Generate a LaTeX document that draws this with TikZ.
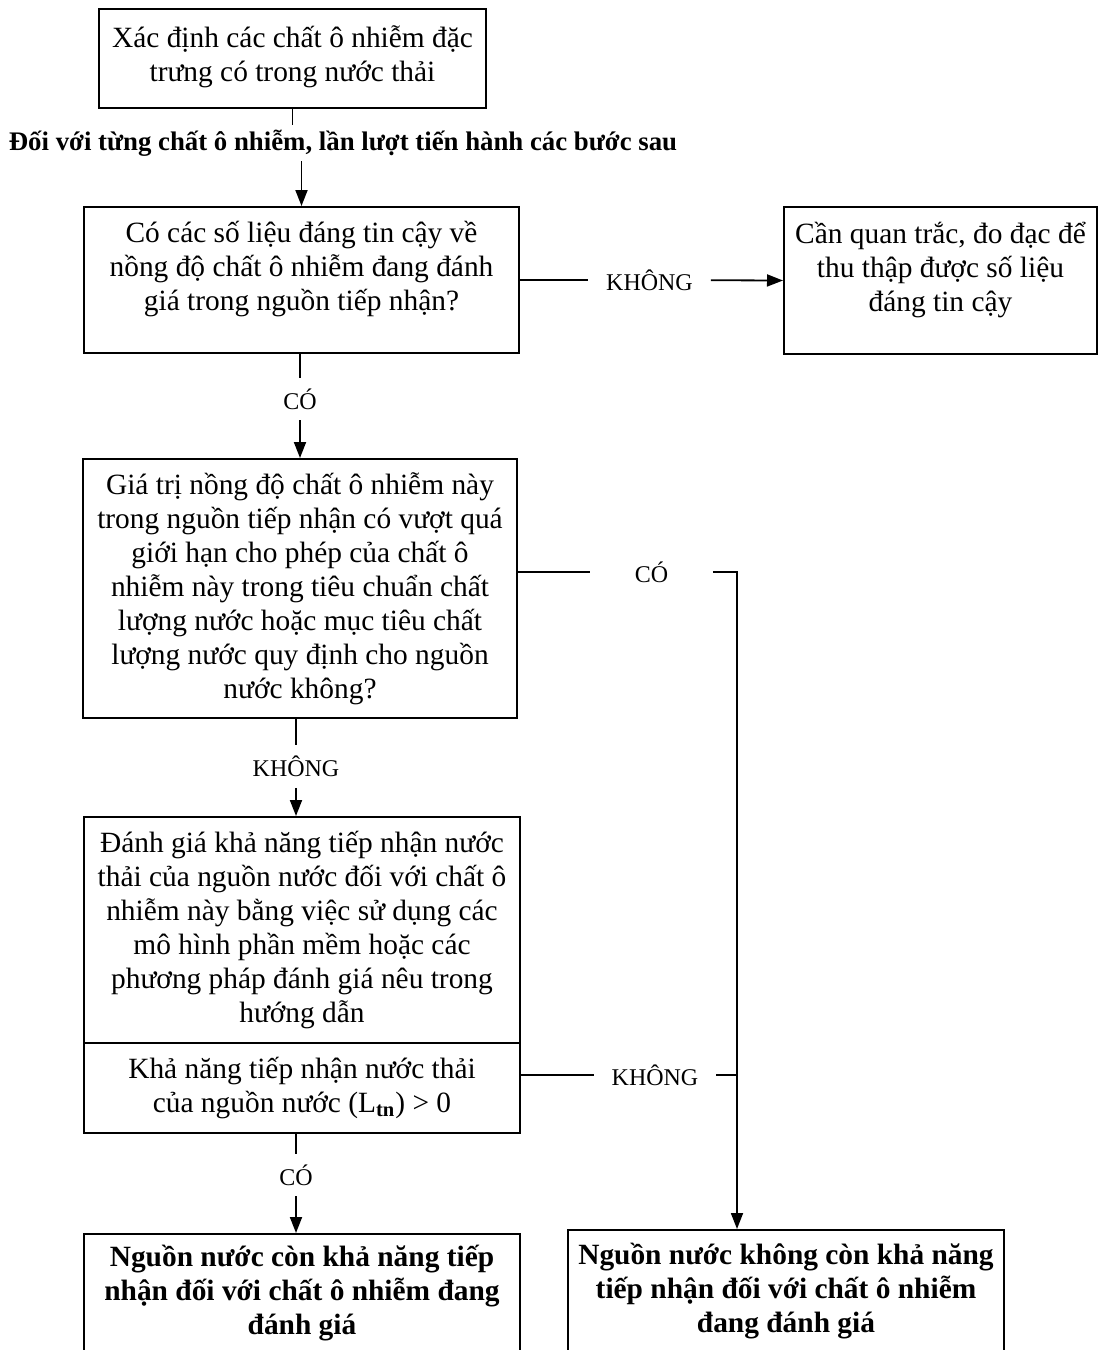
\documentclass[tikz,border=0pt]{standalone}
\usepackage{fontspec}
\setmainfont{Liberation Serif}
\usetikzlibrary{arrows.meta, positioning}

\tikzset{
  box/.style={draw, line width=1pt, align=center, inner sep=0pt, font=\fontsize{14.7}{17}\selectfont},
  hlab/.style={inner sep=0pt, minimum width=61pt, font=\fontsize{12}{14}\selectfont},
  vlab/.style={inner sep=0pt, minimum height=21pt, font=\fontsize{12}{14}\selectfont},
  flow/.style={line width=0.9pt},
  arr/.style={flow, -{Triangle[length=8pt, width=6pt]}}
}

\begin{document}
\begin{tikzpicture}[x=0.5pt, y=-0.5pt]
  \useasboundingbox (0,0) rectangle (1098,1350);

  % Start
  \node[box, minimum width=193.5pt, minimum height=49.5pt, text depth=5pt] (src) at (292.5, 58.5)
    {Xác định các chất ô nhiễm đặc\\trưng có trong nước thải};
  \node[inner sep=0pt, minimum height=18pt, font=\fontsize{13.4}{15}\selectfont\bfseries] (each) at (343, 143)
    {Đối với từng chất ô nhiễm, lần lượt tiến hành các bước sau};

  % Data available?
  \node[box, minimum width=217.5pt, minimum height=73pt, text depth=14pt] (data) at (301.5, 280)
    {Có các số liệu đáng tin cậy về\\nồng độ chất ô nhiễm đang đánh\\giá trong nguồn tiếp nhận?};
  \node[box, minimum width=156.5pt, minimum height=73.5pt, text depth=14pt] (monitor) at (940.5, 280.5)
    {Cần quan trắc, đo đạc để\\thu thập được số liệu\\đáng tin cậy};

  % Exceeds limit?
  \node[box, minimum width=217pt, minimum height=129.5pt] (exceed) at (300, 588.5)
    {Giá trị nồng độ chất ô nhiễm này\\trong nguồn tiếp nhận có vượt quá\\giới hạn cho phép của chất ô\\nhiễm này trong tiêu chuẩn chất\\lượng nước hoặc mục tiêu chất\\lượng nước quy định cho nguồn\\nước không?};

  % Assessment
  \node[box, minimum width=218pt, minimum height=113pt] (assess) at (302, 930)
    {Đánh giá khả năng tiếp nhận nước\\thải của nguồn nước đối với chất ô\\nhiễm này bằng việc sử dụng các\\mô hình phần mềm hoặc các\\phương pháp đánh giá nêu trong\\hướng dẫn};
  \node[box, minimum width=218pt, minimum height=45pt] (ltn) at (302, 1088)
    {Khả năng tiếp nhận nước thải\\của nguồn nước (L\textsubscript{\textbf{tn}}) > 0};

  % Results
  \node[box, minimum width=218pt, minimum height=59pt, font=\fontsize{14.7}{17}\selectfont\bfseries] (remain) at (302, 1293)
    {Nguồn nước còn khả năng tiếp\\nhận đối với chất ô nhiễm đang\\đánh giá};
  \node[box, minimum width=218pt, minimum height=61pt, font=\fontsize{14.7}{17}\selectfont\bfseries] (noremain) at (786, 1291)
    {Nguồn nước không còn khả năng\\tiếp nhận đối với chất ô nhiễm\\đang đánh giá};

  % Labels
  \node[hlab] (no1) at (649.5, 280) {KHÔNG};
  \node[vlab] (yes1) at (300, 399) {CÓ};
  \node[hlab] (yes2) at (651.5, 572) {CÓ};
  \node[vlab] (no2) at (296, 766.5) {KHÔNG};
  \node[hlab] (no3) at (655, 1075) {KHÔNG};
  \node[vlab] (yes3) at (296, 1175) {CÓ};
  \coordinate (corner) at (737, 572);

  % Connectors
  \draw[flow] (src.south) -- (src.south |- each.north);
  \draw[arr] (data.north |- each.south) -- (data.north);
  \draw[flow] (data.east) -- (no1);
  \draw[arr] (no1) -- (monitor.west);
  \draw[flow] (data.south -| yes1) -- (yes1);
  \draw[arr] (yes1) -- (yes1 |- exceed.north);
  \draw[flow] (exceed.east |- yes2) -- (yes2);
  \draw[arr] (yes2) -- (corner) -- (corner |- noremain.north);
  \draw[flow] (exceed.south -| no2) -- (no2);
  \draw[arr] (no2) -- (no2 |- assess.north);
  \draw[flow] (ltn.east |- no3) -- (no3) -- (no3 -| corner);
  \draw[flow] (ltn.south -| yes3) -- (yes3);
  \draw[arr] (yes3) -- (yes3 |- remain.north);
\end{tikzpicture}
\end{document}
